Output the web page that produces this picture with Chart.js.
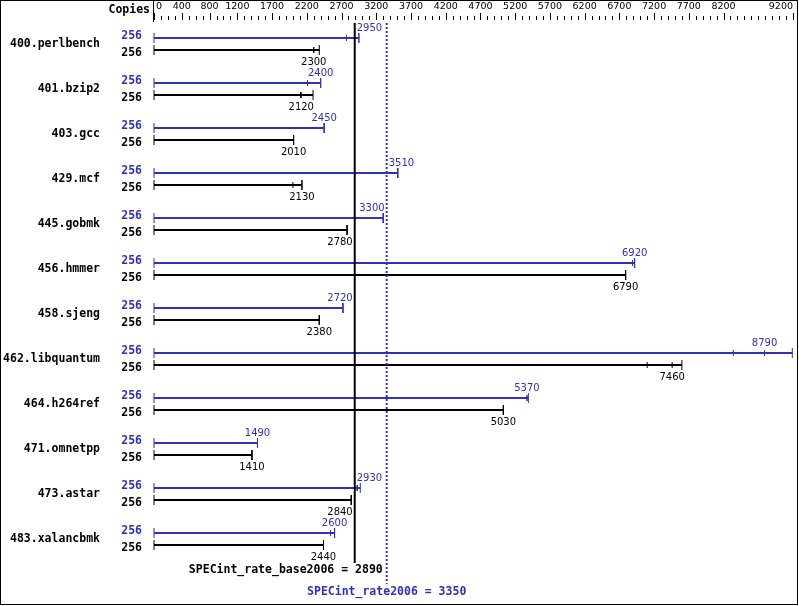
<!DOCTYPE html>
<html>
<head>
<meta charset="utf-8">
<script src="https://cdn.jsdelivr.net/npm/chart.js@4"></script>
<style>
  body { margin: 0; background: #fff; }
  canvas { display: block; }
</style>
</head>
<body>
<canvas id="chart" width="799" height="606"></canvas>
<script>
// benchmark names and copies
var benchmarks = ['400.perlbench', '401.bzip2', '403.gcc', '429.mcf', '445.gobmk', '456.hmmer',
  '458.sjeng', '462.libquantum', '464.h264ref', '471.omnetpp', '473.astar', '483.xalancbmk'];
var peakCopies = [256, 256, 256, 256, 256, 256, 256, 256, 256, 256, 256, 256];
var baseCopies = [256, 256, 256, 256, 256, 256, 256, 256, 256, 256, 256, 256];

// three runs per row, the middle one is the median that is printed
var peakRuns = [
  [2770, 2950, 2950], [2210, 2400, 2400], [2450, 2450, 2450], [3510, 3510, 3510],
  [3300, 3300, 3300], [6890, 6920, 6920], [2720, 2720, 2720], [8340, 8790, 9190],
  [5370, 5370, 5390], [1490, 1490, 1490], [2920, 2930, 2970], [2540, 2600, 2600]
];
var baseRuns = [
  [2300, 2300, 2380], [2110, 2120, 2290], [2010, 2010, 2010], [2000, 2130, 2130],
  [2780, 2780, 2780], [6790, 6790, 6790], [2380, 2380, 2380], [7100, 7460, 7600],
  [5030, 5030, 5030], [1410, 1410, 1410], [2840, 2840, 2840], [2440, 2440, 2440]
];

var baseMean = 2890;
var peakMean = 3350;
var axisLabels = [0, 400, 800, 1200, 1700, 2200, 2700, 3200, 3700, 4200, 4700, 5200,
  5700, 6200, 6700, 7200, 7700, 8200, 9200];
var axisMax = 9200;
var minorStep = 100;

var BLUE = '#3030b8';
var BLACK = '#000000';
var monoBold = 'bold 11.5px "DejaVu Sans Mono"';
var valueFont = '10px "DejaVu Sans"';
var axisFont = '9.5px "DejaVu Sans"';

// row positions on the y scale: peak row at i, base row just below
var baseOffset = 12 / 45;

var datasets = [];

// mean lines
datasets.push({
  type: 'line', order: 0, clip: false,
  data: [{ x: baseMean, y: -1 / 3 }, { x: baseMean, y: 35 / 3 }],
  borderColor: BLACK, borderWidth: 2, pointRadius: 0
});
datasets.push({
  type: 'line', order: 0, clip: false,
  data: [{ x: peakMean, y: -1 / 3 }, { x: peakMean, y: 12.13 }],
  borderColor: BLUE, borderWidth: 2, borderDash: [2, 2], pointRadius: 0
});

function addRow(runs, y, color) {
  var max = Math.max.apply(null, runs);
  datasets.push({
    type: 'line', order: 1, clip: false,
    data: [{ x: 0, y: y }, { x: max, y: y }],
    borderColor: color, borderWidth: 2, pointRadius: 0
  });
  var pts = [{ x: 0, y: y }];
  for (var k = 0; k < runs.length; k++) pts.push({ x: runs[k], y: y });
  datasets.push({
    type: 'scatter', order: 1, clip: false,
    data: pts,
    pointStyle: 'line',
    rotation: 90,
    borderColor: color,
    borderWidth: 1,
    pointRadius: function(ctx) {
      var v = ctx.raw ? ctx.raw.x : 0;
      return (v === 0 || v === max) ? 5 : 3;
    }
  });
}

for (var i = 0; i < benchmarks.length; i++) {
  addRow(peakRuns[i], i, BLUE);
  addRow(baseRuns[i], i + baseOffset, BLACK);
}

var drawText = {
  id: 'drawText',
  afterDatasetsDraw: function(chart) {
    var ctx = chart.ctx;
    var xs = chart.scales.x;
    var ys = chart.scales.y;
    var top = chart.chartArea.top;
    ctx.save();

    // top axis: ticks every 100, longer at the labels
    ctx.strokeStyle = BLACK;
    ctx.lineWidth = 1;
    for (var v = 0; v <= axisMax; v += minorStep) {
      var px = Math.round(xs.getPixelForValue(v)) + 0.5;
      var major = axisLabels.indexOf(v) >= 0;
      ctx.beginPath();
      ctx.moveTo(px, major ? 13 : 16);
      ctx.lineTo(px, 20);
      ctx.stroke();
    }
    var x0 = Math.round(xs.getPixelForValue(0)) - 0.5;
    ctx.beginPath();
    ctx.moveTo(x0, 0);
    ctx.lineTo(x0, top - 1);
    ctx.stroke();

    ctx.fillStyle = BLACK;
    ctx.font = axisFont;
    ctx.textBaseline = 'middle';
    axisLabels.forEach(function(v) {
      var px = xs.getPixelForValue(v);
      if (v === 0) {
        ctx.textAlign = 'left';
        ctx.fillText(String(v), px + 2, 7);
      } else if (v === axisMax) {
        ctx.textAlign = 'right';
        ctx.fillText(String(v), px, 7);
      } else {
        ctx.textAlign = 'center';
        ctx.fillText(String(v), px, 7);
      }
    });

    ctx.font = monoBold;
    ctx.textAlign = 'right';
    ctx.fillText('Copies', 150, 10);

    var lines = [xs.getPixelForValue(baseMean), xs.getPixelForValue(peakMean)];

    function valueLabel(val, cy, color) {
      ctx.font = valueFont;
      var w = ctx.measureText(String(val)).width;
      var cx = xs.getPixelForValue(val);
      var left = cx - w / 2;
      lines.forEach(function(lx) {
        if (left < lx + 2 && left + w > lx - 2) {
          var shiftR = (lx + 2) - left;
          var shiftL = (left + w) - (lx - 2);
          left = shiftR <= shiftL ? left + shiftR : left - shiftL;
        }
      });
      ctx.fillStyle = color;
      ctx.textAlign = 'left';
      ctx.fillText(String(val), left, cy);
    }

    for (var i = 0; i < benchmarks.length; i++) {
      var yp = ys.getPixelForValue(i);
      var yb = ys.getPixelForValue(i + baseOffset);

      ctx.font = monoBold;
      ctx.textAlign = 'right';
      ctx.fillStyle = BLACK;
      ctx.fillText(benchmarks[i], 100, (yp + yb) / 2);

      ctx.fillStyle = BLUE;
      ctx.fillText(String(peakCopies[i]), 142, yp - 2);
      ctx.fillStyle = BLACK;
      ctx.fillText(String(baseCopies[i]), 142, yb + 3);

      valueLabel(peakRuns[i][1], yp - 9.5, BLUE);
      valueLabel(baseRuns[i][1], yb + 12, BLACK);
    }

    // summary lines
    ctx.font = monoBold;
    ctx.textAlign = 'right';
    ctx.fillStyle = BLACK;
    ctx.fillText('SPECint_rate_base2006 = ' + baseMean, lines[0] + 28, 570);
    ctx.textAlign = 'center';
    ctx.fillStyle = BLUE;
    ctx.fillText('SPECint_rate2006 = ' + peakMean, lines[1], 592);

    // frame
    ctx.strokeStyle = BLACK;
    ctx.lineWidth = 1;
    ctx.strokeRect(0.5, 0.5, 797, 604);
    ctx.restore();
  }
};

new Chart(document.getElementById('chart').getContext('2d'), {
  type: 'scatter',
  data: { datasets: datasets },
  options: {
    responsive: false,
    animation: false,
    layout: { padding: { left: 154, right: 5, top: 23, bottom: 43 } },
    plugins: { legend: { display: false }, tooltip: { enabled: false } },
    scales: {
      x: { type: 'linear', min: 0, max: axisMax, display: false },
      y: { type: 'linear', min: -1 / 3, max: 35 / 3, reverse: true, display: false }
    }
  },
  plugins: [drawText]
});
</script>
</body>
</html>
